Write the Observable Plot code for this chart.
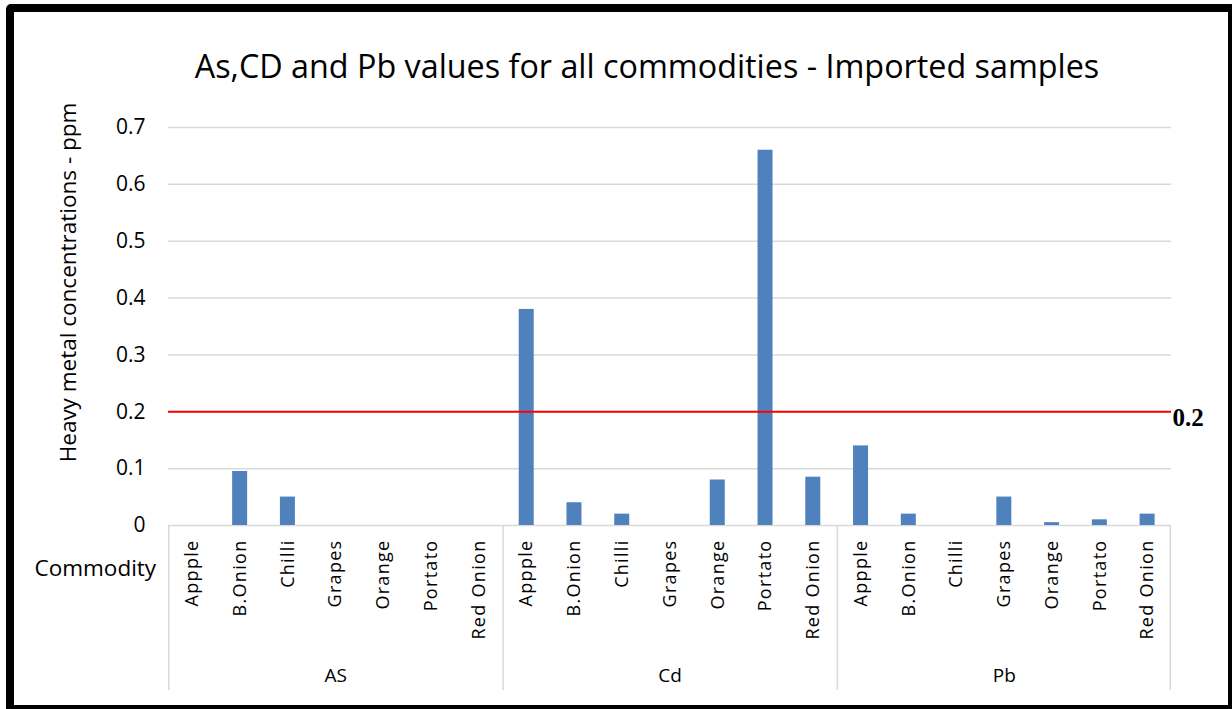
<!DOCTYPE html>
<html>
<head>
<meta charset="utf-8">
<script src="https://cdn.jsdelivr.net/npm/d3@7"></script>
<script src="https://cdn.jsdelivr.net/npm/@observablehq/plot@0.6"></script>
<style>
  html, body { margin: 0; padding: 0; background: #fff; }
  #wrap { position: relative; width: 1232px; height: 709px; overflow: hidden; }
  #frame { position: absolute; left: 6px; top: 4px; right: 0; bottom: 0;
           border-left: 8px solid #000; border-top: 8px solid #000;
           border-right: 4px solid #000; border-bottom: 4px solid #000;
           border-top-left-radius: 5px; pointer-events: none; }
  #chart { position: absolute; left: 0; top: 0; }
  g[aria-label="x-axis tick label"] text { letter-spacing: 1.3px; }
</style>
</head>
<body>
<div id="wrap"><div id="chart"></div><div id="frame"></div></div>
<script>
const title = "As,CD and Pb values for all commodities - Imported samples";
const yTitle = "Heavy metal concentrations - ppm";
const xTitle = "Commodity";
const metals = ["AS", "Cd", "Pb"];
const commodities = ["Appple", "B.Onion", "Chilli", "Grapes", "Orange", "Portato", "Red Onion"];
const asValues = [0, 0.095, 0.05, 0, 0, 0, 0];
const cdValues = [0.38, 0.04, 0.02, 0, 0.08, 0.66, 0.085];
const pbValues = [0.14, 0.02, 0, 0.05, 0.005, 0.01, 0.02];
const yTicks = [0, 0.1, 0.2, 0.3, 0.4, 0.5, 0.6, 0.7];
const threshold = 0.2;

const seriesByMetal = {AS: asValues, Cd: cdValues, Pb: pbValues};
const key = (m, c) => `${m}|${c}`;
const data = metals.flatMap(m => commodities.map((c, i) => ({metal: m, commodity: c, key: key(m, c), value: seriesByMetal[m][i]})));
const domain = data.map(d => d.key);

const W = 1232, H = 709;
const mL = 168, mR = 61, mT = 127, mB = 184;
const step = (W - mL - mR) / domain.length;
const barW = 15;
const sepBottom = -0.29;

const plot = Plot.plot({
  width: W, height: H,
  marginLeft: mL, marginRight: mR, marginTop: mT, marginBottom: mB,
  style: {fontFamily: "'Open Sans', sans-serif", background: "transparent", overflow: "visible"},
  x: {type: "band", domain, paddingInner: 0, paddingOuter: 0, round: false},
  y: {domain: [0, 0.7]},
  marks: [
    Plot.gridY(yTicks, {stroke: "#d9d9d9", strokeOpacity: 1, strokeWidth: 1.5}),
    // category separators (left edges of groups and right edge)
    Plot.barY(metals.map(m => key(m, commodities[0])), {x: d => d, y1: 0, y2: sepBottom, fill: "#d9d9d9", insetLeft: 0, insetRight: step - 1.5}),
    Plot.barY([key(metals[metals.length - 1], commodities[commodities.length - 1])], {x: d => d, y1: 0, y2: sepBottom, fill: "#d9d9d9", insetLeft: step - 1.5, insetRight: 0}),
    Plot.barY(data.filter(d => d.value > 0), {x: "key", y: "value", fill: "#4f81bd", insetLeft: (step - barW) / 2, insetRight: (step - barW) / 2}),
    Plot.ruleY([threshold], {stroke: "#ff0000", strokeWidth: 2}),
    Plot.text([threshold], {y: d => d, frameAnchor: "right", textAnchor: "start", dx: 1, dy: 6, text: d => String(d),
      fontFamily: "'Liberation Serif', 'Times New Roman', serif", fontWeight: "bold", fontSize: 25, fill: "#000"}),
    Plot.axisY(yTicks, {tickSize: 0, tickPadding: 23, fontSize: 21, tickFormat: d => String(d), fill: "#000", label: null}),
    Plot.axisX({tickSize: 0, tickPadding: 14, tickRotate: -90, fontSize: 18, tickFormat: d => d.split("|")[1], fill: "#000", label: null}),
    Plot.text(metals, {x: m => key(m, commodities[3]), y: () => 0, dy: 150, text: d => d, fontSize: 19, fill: "#000"}),
    Plot.text([xTitle], {frameAnchor: "bottom-left", textAnchor: "start", dx: -134, dy: 50, fontSize: 22.5, fill: "#000"}),
    Plot.text([yTitle], {frameAnchor: "left", textAnchor: "middle", rotate: -90, dx: -100, dy: -44, fontSize: 22.5, fill: "#000"}),
    Plot.text([title], {frameAnchor: "top", dx: -23, dy: -72, fontSize: 32.3, fill: "#000"})
  ]
});
document.getElementById("chart").appendChild(plot);
</script>
</body>
</html>
